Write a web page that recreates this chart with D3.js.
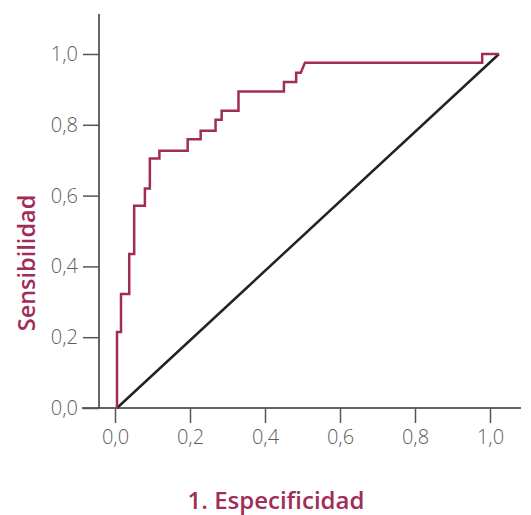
<!DOCTYPE html>
<html>
<head>
<meta charset="utf-8">
<script src="https://cdn.jsdelivr.net/npm/d3@7"></script>
<style>
  body { margin: 0; background: #fff; }
  text { font-family: "Open Sans", sans-serif; }
</style>
</head>
<body>
<script>
// ROC curve vertices (1 - especificidad, sensibilidad)
var rocFpr = [0, 0, 0.0105, 0.0105, 0.032, 0.032, 0.045, 0.045, 0.073, 0.073, 0.086, 0.086,
              0.111, 0.111, 0.185, 0.185, 0.219, 0.219, 0.258, 0.258, 0.274, 0.274, 0.318, 0.318,
              0.437, 0.437, 0.469, 0.469, 0.481, 0.492, 0.956, 0.956, 1.0];
var rocTpr = [0, 0.215, 0.215, 0.322, 0.322, 0.435, 0.435, 0.571, 0.571, 0.620, 0.620, 0.705,
              0.705, 0.727, 0.727, 0.759, 0.759, 0.783, 0.783, 0.814, 0.814, 0.840, 0.840, 0.894,
              0.894, 0.921, 0.921, 0.947, 0.947, 0.975, 0.975, 1.0, 1.0];
var diagonal = [0, 1];
var tickValues = [0, 0.2, 0.4, 0.6, 0.8, 1.0];

var width = 531, height = 515;
var accent = "#a02c58";

var svg = d3.select("body").append("svg")
    .attr("width", width)
    .attr("height", height);

//scales: data area and the (slightly narrower) tick positions on the x axis
var x = d3.scaleLinear().domain([0, 1]).range([117, 499]);
var xTicks = d3.scaleLinear().domain([0, 1]).range([115, 490]);
var y = d3.scaleLinear().domain([0, 1]).range([408, 54]);

var fmt = function(d){ return d3.format(".1f")(d).replace(".", ","); };

//axis lines
svg.append("line")
    .attr("x1", 99).attr("x2", 99)
    .attr("y1", 14).attr("y2", y(0))
    .attr("stroke", "#333").attr("stroke-width", 1.5);
svg.append("line")
    .attr("x1", 82).attr("x2", 521)
    .attr("y1", y(0)).attr("y2", y(0))
    .attr("stroke", "#333").attr("stroke-width", 1.5);

//y ticks
var yAxis = svg.append("g").attr("transform", "translate(99,0)")
    .call(d3.axisLeft(y).tickValues(tickValues).tickSize(16).tickPadding(5).tickFormat(fmt));
yAxis.select(".domain").remove();
yAxis.selectAll(".tick line").attr("stroke", "#555").attr("stroke-width", 1.5);
yAxis.selectAll(".tick text").attr("fill", "#5e5e5e").style("font-size", "20px")
    .style("font-family", "'Open Sans', sans-serif").style("font-weight", 300);

//x ticks
var xAxis = svg.append("g").attr("transform", "translate(0," + y(0) + ")")
    .call(d3.axisBottom(xTicks).tickValues(tickValues).tickSize(15).tickPadding(7).tickFormat(fmt));
xAxis.select(".domain").remove();
xAxis.selectAll(".tick line").attr("stroke", "#555").attr("stroke-width", 1.5);
xAxis.selectAll(".tick text").attr("fill", "#5e5e5e").style("font-size", "20px")
    .style("font-family", "'Open Sans', sans-serif").style("font-weight", 300);

//reference diagonal
svg.append("path")
    .datum(diagonal)
    .attr("d", d3.line().x(function(d){ return x(d); }).y(function(d){ return y(d); }))
    .attr("fill", "none")
    .attr("stroke", "#222")
    .attr("stroke-width", 2.5);

//ROC curve
svg.append("path")
    .datum(d3.range(rocFpr.length))
    .attr("d", d3.line().x(function(i){ return x(rocFpr[i]); }).y(function(i){ return y(rocTpr[i]); }))
    .attr("fill", "none")
    .attr("stroke", accent)
    .attr("stroke-width", 2.5)
    .attr("stroke-linejoin", "miter");

//axis titles
svg.append("text")
    .attr("x", 276).attr("y", 509)
    .attr("text-anchor", "middle")
    .attr("fill", accent)
    .style("font-size", "24px").style("font-weight", 600)
    .text("1. Especificidad");

svg.append("text")
    .attr("transform", "translate(35,263) rotate(-90)")
    .attr("text-anchor", "middle")
    .attr("fill", accent)
    .style("font-size", "23.5px").style("font-weight", 600)
    .text("Sensibilidad");
</script>
</body>
</html>
